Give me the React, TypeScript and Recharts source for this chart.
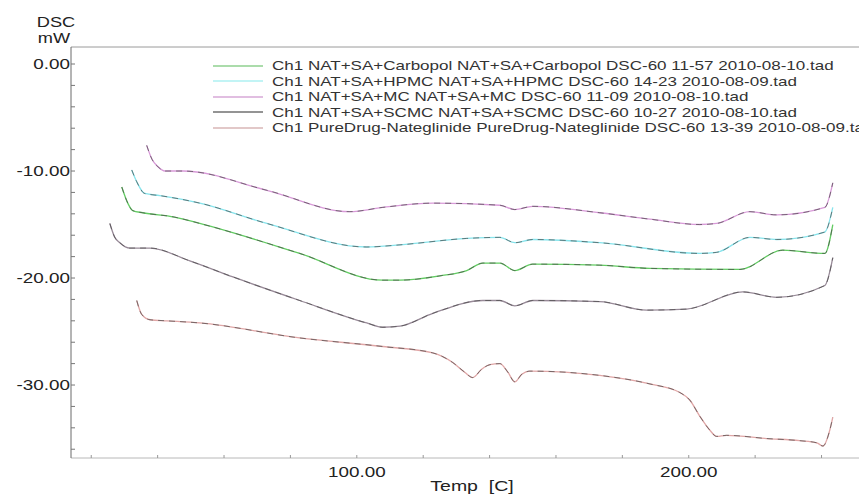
import React from 'react';
import { LineChart, Line, XAxis, YAxis, ReferenceLine, Legend } from 'recharts';

// DSC thermograms: temperature (°C) and heat flow (mW) for each run
const carbopolTemp = [29.2, 31.0, 32.5, 35.5, 45.0, 52.7, 82.8, 107.8, 113.0, 125.0, 133.1, 138.0, 143.1, 147.6, 153.0, 173.2, 188.3, 215.4, 228.3, 241.0, 243.4];
const carbopolDsc = [-11.5, -13.0, -13.7, -13.9, -14.3, -14.9, -17.7, -20.2, -20.2, -19.8, -19.3, -18.6, -18.6, -19.3, -18.7, -18.8, -19.1, -19.2, -17.4, -17.7, -15.0];

const hpmcTemp = [32.2, 33.7, 36.1, 40.7, 52.7, 72.9, 103.0, 113.0, 133.1, 143.1, 147.6, 153.0, 173.2, 203.3, 208.4, 218.4, 226.5, 241.0, 243.4];
const hpmcDsc = [-9.9, -11.0, -12.1, -12.3, -13.0, -14.9, -17.1, -16.9, -16.3, -16.2, -16.7, -16.4, -16.7, -17.7, -17.6, -16.2, -16.4, -15.7, -13.4];

const mcTemp = [36.7, 38.3, 40.1, 42.2, 47.6, 72.9, 97.9, 107.8, 122.9, 143.1, 147.6, 153.0, 173.2, 188.3, 203.3, 208.4, 218.4, 226.5, 241.0, 243.4];
const mcDsc = [-7.6, -8.9, -9.6, -10.0, -10.0, -11.8, -13.8, -13.4, -13.0, -13.2, -13.6, -13.3, -13.9, -14.5, -15.0, -14.9, -13.8, -14.1, -13.4, -11.1];

const scmcTemp = [25.6, 27.1, 28.6, 31.6, 37.7, 49.7, 62.7, 82.8, 103.0, 107.8, 113.0, 122.9, 138.0, 143.1, 147.6, 153.0, 173.2, 187.3, 199.4, 216.3, 226.5, 241.0, 243.4];
const scmcDsc = [-14.9, -16.2, -16.7, -17.2, -17.2, -18.4, -19.9, -22.1, -24.2, -24.6, -24.5, -23.3, -22.1, -22.1, -22.6, -22.1, -22.2, -23.0, -22.9, -21.3, -21.8, -20.7, -18.1];

const pureTemp = [33.7, 35.2, 37.7, 42.8, 52.7, 82.8, 107.8, 122.9, 128.9, 132.5, 134.9, 137.7, 140.1, 143.1, 145.5, 147.6, 149.7, 152.1, 173.2, 188.3, 197.3, 200.3, 203.3, 206.3, 208.4, 211.4, 223.5, 233.4, 238.6, 240.4, 242.5, 243.4];
const pureDsc = [-22.1, -23.4, -23.9, -24.0, -24.2, -25.6, -26.4, -27.0, -27.9, -28.8, -29.3, -28.5, -28.1, -28.0, -28.8, -29.7, -29.0, -28.7, -29.1, -29.9, -30.7, -31.4, -32.9, -34.2, -34.8, -34.7, -35.0, -35.2, -35.4, -35.7, -34.2, -33.0];

const seriesNames = [
  'Ch1 NAT+SA+Carbopol NAT+SA+Carbopol DSC-60 11-57 2010-08-10.tad',
  'Ch1 NAT+SA+HPMC NAT+SA+HPMC DSC-60 14-23 2010-08-09.tad',
  'Ch1 NAT+SA+MC NAT+SA+MC DSC-60 11-09 2010-08-10.tad',
  'Ch1 NAT+SA+SCMC NAT+SA+SCMC DSC-60 10-27 2010-08-10.tad',
  'Ch1 PureDrug-Nateglinide PureDrug-Nateglinide DSC-60 13-39 2010-08-09.tad',
];

const xTicks = [20, 40, 60, 80, 100, 120, 140, 160, 180, 200, 220, 240];
const yTicks = [0, -2, -4, -6, -8, -10, -12, -14, -16, -18, -20, -22, -24, -26, -28, -30, -32, -34, -36];

const X_DOMAIN: [number, number] = [13.9, 253.7];
const Y_DOMAIN: [number, number] = [-36.82, 1.59];

const FONT = "'Liberation Sans', Arial, sans-serif";
const STRETCH = 1.3;

const zip = (t: number[], v: number[]) => t.map((tt, i) => ({ t: tt, v: v[i] }));

const series = [
  { name: seriesNames[0], data: zip(carbopolTemp, carbopolDsc), color: '#62cc62', legend: '#8fd08f' },
  { name: seriesNames[1], data: zip(hpmcTemp, hpmcDsc), color: '#86e4ec', legend: '#aef0f2' },
  { name: seriesNames[2], data: zip(mcTemp, mcDsc), color: '#d99ad9', legend: '#d7a8d7' },
  { name: seriesNames[3], data: zip(scmcTemp, scmcDsc), color: '#988a98', legend: '#707070' },
  { name: seriesNames[4], data: zip(pureTemp, pureDsc), color: '#e0a6a6', legend: '#d9b6b6' },
];

const YTick = (props: any) => {
  const { x, y, payload } = props;
  const v = payload.value as number;
  const major = Math.abs(v % 10) < 1e-6;
  return (
    <g>
      <line x1={x} y1={y} x2={x + 4} y2={y} stroke="#777" strokeWidth={1} />
      {major && (
        <text
          transform={`translate(${x - 1},${y}) scale(${STRETCH},1)`}
          textAnchor="end"
          dominantBaseline="central"
          fontFamily={FONT}
          fontSize={14.5}
          fill="#222"
        >
          {v.toFixed(2)}
        </text>
      )}
    </g>
  );
};

const XTick = (props: any) => {
  const { x, y, payload } = props;
  const v = payload.value as number;
  const major = v % 100 === 0;
  return (
    <g>
      <line x1={x} y1={y} x2={x} y2={y - 3} stroke="#999" strokeWidth={1} />
      {major && (
        <text
          transform={`translate(${x},${y + 19}) scale(${STRETCH},1)`}
          textAnchor="middle"
          fontFamily={FONT}
          fontSize={14.5}
          fill="#222"
        >
          {v.toFixed(2)}
        </text>
      )}
    </g>
  );
};

const renderLegend = () => (
  <div style={{ position: 'relative', width: 660, height: 80 }}>
    {series.map((s, i) => (
      <div
        key={s.name}
        style={{
          position: 'absolute',
          left: 0,
          top: i * 15.5,
          height: 15.5,
          display: 'flex',
          alignItems: 'center',
          whiteSpace: 'nowrap',
        }}
      >
        <svg width={50} height={4} style={{ display: 'block' }}>
          <line x1={0} x2={50} y1={2} y2={2} stroke={s.legend} strokeWidth={1.5} />
        </svg>
        <span
          style={{
            marginLeft: 9,
            fontFamily: FONT,
            fontSize: 13.5,
            color: '#333',
            display: 'inline-block',
            transform: 'scaleX(1.26)',
            transformOrigin: 'left center',
          }}
        >
          {s.name}
        </span>
      </div>
    ))}
  </div>
);

const yAxisTitle = () => (
  <g fontFamily={FONT} fontSize={14} fill="#222">
    <text transform={`translate(48,19) scale(${STRETCH},1)`} textAnchor="middle">DSC</text>
    <text transform={`translate(46,35) scale(${STRETCH},1)`} textAnchor="middle">mW</text>
  </g>
);

const xAxisTitle = () => (
  <text
    transform={`translate(464,483) scale(${STRETCH},1)`}
    textAnchor="middle"
    fontFamily={FONT}
    fontSize={15}
    fill="#222"
    style={{ whiteSpace: 'pre' }}
  >
    {'Temp  [C]'}
  </text>
);

export default function App() {
  return (
    <div style={{ width: 859, height: 486, overflow: 'hidden', background: '#fff' }}>
      <LineChart width={859} height={486} margin={{ top: 39, right: 0, bottom: 0, left: 0 }}>
        <XAxis
          dataKey="t"
          type="number"
          domain={X_DOMAIN}
          allowDataOverflow
          ticks={xTicks}
          interval={0}
          tickSize={0}
          tickMargin={0}
          tickLine={false}
          tick={<XTick />}
          height={36}
          axisLine={{ stroke: '#b8b8b8' }}
          label={{ content: xAxisTitle }}
        />
        <YAxis
          type="number"
          domain={Y_DOMAIN}
          allowDataOverflow
          ticks={yTicks}
          interval={0}
          tickSize={0}
          tickMargin={0}
          tickLine={false}
          tick={<YTick />}
          width={63}
          axisLine={{ stroke: '#6a6a6a' }}
          label={{ content: yAxisTitle }}
        />
        <ReferenceLine y={Y_DOMAIN[1]} stroke="#9a9a9a" strokeWidth={1} />
        <Legend
          verticalAlign="middle"
          align="center"
          layout="horizontal"
          content={renderLegend}
          wrapperStyle={{ left: 205, top: 50, width: 660, height: 80 }}
        />
        {series.map((s) => (
          <Line
            key={s.name}
            data={s.data}
            dataKey="v"
            name={s.name}
            type="monotone"
            stroke={s.color}
            strokeWidth={1.3}
            dot={false}
            activeDot={false}
            isAnimationActive={false}
          />
        ))}
        {series.map((s) => (
          <Line
            key={s.name + '-trace'}
            data={s.data}
            dataKey="v"
            name={s.name + ' trace'}
            legendType="none"
            type="monotone"
            stroke="#4a4a4a"
            strokeOpacity={0.7}
            strokeWidth={1}
            strokeDasharray="6 5"
            dot={false}
            activeDot={false}
            isAnimationActive={false}
          />
        ))}
      </LineChart>
    </div>
  );
}
